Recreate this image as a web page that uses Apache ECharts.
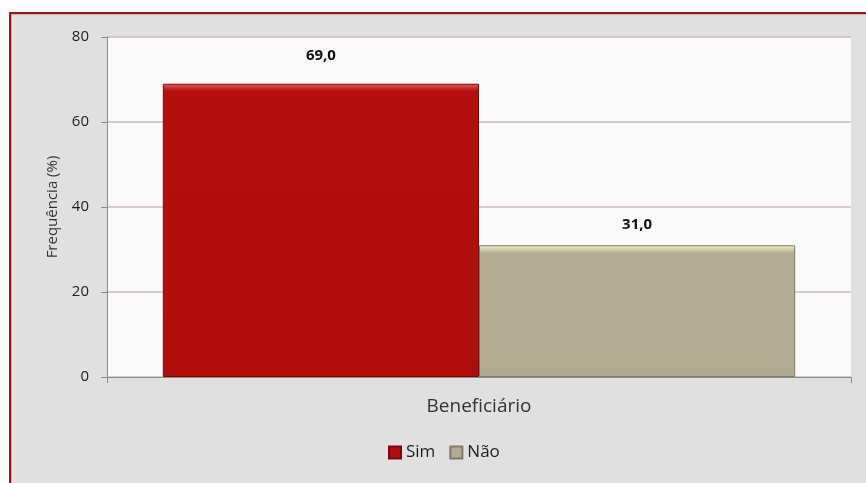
<!DOCTYPE html>
<html>
<head>
<meta charset="utf-8">
<script src="https://cdn.jsdelivr.net/npm/echarts@6/dist/echarts.min.js"></script>
<style>
  html, body { margin: 0; padding: 0; background: #ffffff; }
  #wrap { position: relative; width: 866px; height: 483px; overflow: hidden; }
  #frame {
    position: absolute; left: 9px; top: 12px; width: 870px; height: 480px;
    border: 2px solid #8e1b1b; box-shadow: inset 0 0 0 1px #e9a0a0;
    background: #e0e0e0; box-sizing: border-box;
  }
  #chart { position: absolute; left: 0; top: 0; width: 866px; height: 483px; }
</style>
</head>
<body>
<div id="wrap">
  <div id="frame"></div>
  <div id="chart"></div>
</div>
<script>
// dados
const categories = ['Beneficiário'];
const seriesNames = ['Sim', 'Não'];
const simValues = [69.0];
const naoValues = [31.0];
const yTicks = [0, 20, 40, 60, 80];

const chart = echarts.init(document.getElementById('chart'), null, { renderer: 'canvas' });

const barLabel = (dist) => ({
  show: true,
  position: 'top',
  distance: dist,
  fontFamily: 'Open Sans',
  fontWeight: 'bold',
  fontSize: 15,
  color: '#111',
  formatter: (p) => p.value.toFixed(1).replace('.', ',')
});

const option = {
  animation: false,
  backgroundColor: 'transparent',
  grid: {
    left: 107, right: 15, top: 37, bottom: 106,
    show: true, backgroundColor: '#fafafa', borderWidth: 0
  },
  legend: {
    left: 383, bottom: 17,
    icon: 'rect', itemWidth: 12, itemHeight: 12, itemGap: 14,
    textStyle: { fontFamily: 'Open Sans', fontSize: 17, color: '#222' },
    data: seriesNames
  },
  xAxis: {
    type: 'category',
    data: categories,
    axisLine: { lineStyle: { color: '#8a8a8a', width: 1 } },
    axisTick: { show: true, length: 6, lineStyle: { color: '#8a8a8a' } },
    axisLabel: { fontFamily: 'Open Sans', fontSize: 19, color: '#333', margin: 20 }
  },
  yAxis: {
    type: 'value',
    min: yTicks[0], max: yTicks[yTicks.length - 1], interval: 20,
    name: 'Frequência (%)',
    nameLocation: 'middle',
    nameGap: 47,
    nameTextStyle: { fontFamily: 'Open Sans', fontSize: 15, color: '#333' },
    axisLine: { show: true, lineStyle: { color: '#8a8a8a' } },
    axisTick: { show: true, length: 6, lineStyle: { color: '#8a8a8a' } },
    axisLabel: { fontFamily: 'Open Sans', fontSize: 15, color: '#222', margin: 18 },
    splitLine: { lineStyle: { color: '#c9bcbc', width: 1.5 } }
  },
  series: [
    {
      name: seriesNames[0], type: 'bar', data: simValues,
      barGap: '0%', barCategoryGap: '15%',
      itemStyle: {
        color: new echarts.graphic.LinearGradient(0, 0, 0, 1, [
          { offset: 0, color: '#e85a5a' },
          { offset: 0.025, color: '#b30f0f' },
          { offset: 1, color: '#b00d0d' }
        ]),
        borderColor: '#7a0a0a', borderWidth: 1
      },
      label: barLabel(21)
    },
    {
      name: seriesNames[1], type: 'bar', data: naoValues,
      itemStyle: {
        color: new echarts.graphic.LinearGradient(0, 0, 0, 1, [
          { offset: 0, color: '#f4eec4' },
          { offset: 0.06, color: '#b4ad94' },
          { offset: 1, color: '#b2ab91' }
        ]),
        borderColor: '#7f7a66', borderWidth: 1
      },
      label: barLabel(13)
    }
  ]
};

chart.setOption(option);
</script>
</body>
</html>
